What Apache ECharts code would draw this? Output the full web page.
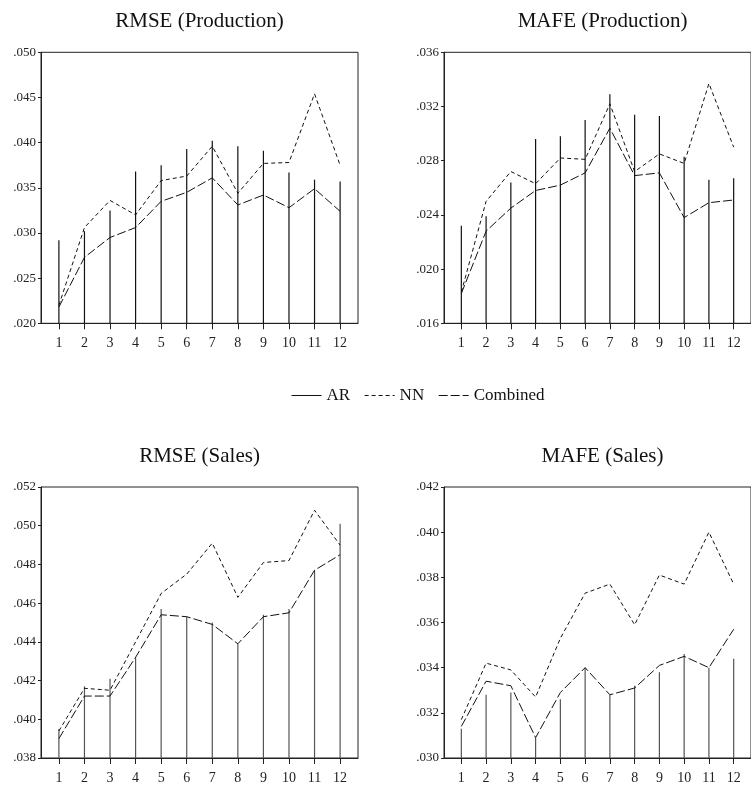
<!DOCTYPE html>
<html>
<head>
<meta charset="utf-8">
<script src="https://cdn.jsdelivr.net/npm/echarts@6/dist/echarts.min.js"></script>
<style>
html,body{margin:0;padding:0;background:#fff;}
#chart{width:751px;height:785px;}
</style>
</head>
<body>
<div id="chart"></div>
<script>
// Forecast horizons (x categories)
const horizons = [1,2,3,4,5,6,7,8,9,10,11,12];

// RMSE (Production)
const rmseProdAR   = [0.0292,0.0302,0.0325,0.0368,0.0375,0.0393,0.0402,0.0396,0.0391,0.0367,0.0359,0.0357];
const rmseProdNN   = [0.0220,0.0306,0.0336,0.0320,0.0358,0.0363,0.0396,0.0344,0.0377,0.0378,0.0454,0.0375];
const rmseProdComb = [0.0218,0.0273,0.0295,0.0306,0.0335,0.0345,0.0361,0.0331,0.0342,0.0328,0.0349,0.0324];

// MAFE (Production)
const mafeProdAR   = [0.0232,0.0239,0.0264,0.0296,0.0298,0.0310,0.0329,0.0314,0.0313,0.0283,0.0266,0.0267];
const mafeProdNN   = [0.0183,0.0250,0.0272,0.0263,0.0282,0.0281,0.0322,0.0272,0.0285,0.0278,0.0337,0.0290];
const mafeProdComb = [0.0182,0.0228,0.0245,0.0258,0.0262,0.0271,0.0304,0.0269,0.0271,0.0238,0.0249,0.0251];

// RMSE (Sales)
const rmseSalesAR   = [0.0395,0.0417,0.0421,0.0432,0.0457,0.0453,0.0450,0.0439,0.0454,0.0457,0.0477,0.0501];
const rmseSalesNN   = [0.0394,0.0416,0.0415,0.0440,0.0465,0.0475,0.0491,0.0463,0.0481,0.0482,0.0508,0.0490];
const rmseSalesComb = [0.0390,0.0412,0.0412,0.0432,0.0454,0.0453,0.0449,0.0439,0.0453,0.0455,0.0477,0.0485];

// MAFE (Sales)
const mafeSalesAR   = [0.0313,0.0328,0.0329,0.0309,0.0326,0.0340,0.0328,0.0332,0.0338,0.0346,0.0340,0.0344];
const mafeSalesNN   = [0.0317,0.0342,0.0339,0.0327,0.0353,0.0373,0.0377,0.0359,0.0381,0.0377,0.0400,0.0377];
const mafeSalesComb = [0.0314,0.0334,0.0332,0.0309,0.0329,0.0340,0.0328,0.0331,0.0341,0.0345,0.0340,0.0357];

// Titles and y-axis ranges
const panelTitles = ['RMSE (Production)','MAFE (Production)','RMSE (Sales)','MAFE (Sales)'];
const yMins = [0.020, 0.016, 0.038, 0.030];
const yMaxs = [0.050, 0.036, 0.052, 0.042];
const yIntervals = [0.005, 0.004, 0.002, 0.002];

const panels = [
  {ar: rmseProdAR, nn: rmseProdNN, comb: rmseProdComb},
  {ar: mafeProdAR, nn: mafeProdNN, comb: mafeProdComb},
  {ar: rmseSalesAR, nn: rmseSalesNN, comb: rmseSalesComb},
  {ar: mafeSalesAR, nn: mafeSalesNN, comb: mafeSalesComb}
];

const layout = [
  {left: 41, top: 52.3},
  {left: 444, top: 52.3},
  {left: 41, top: 487},
  {left: 444, top: 487}
];
const gridW = 317, gridH = 271;
const serif = '"Liberation Serif", "DejaVu Serif", serif';
const spikeColors = ['#111','#111','#555','#555'];

const grids = [], xAxes = [], yAxes = [], series = [], titles = [];
panels.forEach((p, i) => {
  grids.push({left: layout[i].left, top: layout[i].top, width: gridW, height: gridH,
    show: true, borderColor: '#222', borderWidth: 1, backgroundColor: 'transparent'});
  titles.push({text: panelTitles[i], left: layout[i].left + gridW/2, top: i < 2 ? 11 : 446,
    textAlign: 'center', padding: 0,
    textStyle: {fontFamily: serif, fontSize: 21, fontWeight: 'normal', color: '#111'}});
  xAxes.push({type: 'value', gridIndex: i, min: 0.3, max: 12.7,
    axisLine: {show: true, onZero: false, lineStyle: {color: '#222', width: 1}},
    axisTick: {show: true, inside: false, length: 6, customValues: horizons, lineStyle: {color: '#222'}},
    axisLabel: {customValues: horizons, margin: 13, fontFamily: serif, fontSize: 14, color: '#222'},
    splitLine: {show: false}});
  yAxes.push({type: 'value', gridIndex: i, min: yMins[i], max: yMaxs[i], interval: yIntervals[i],
    axisLine: {show: true, lineStyle: {color: '#222', width: 1}},
    axisTick: {show: true, inside: false, length: 3, lineStyle: {color: '#222'}},
    axisLabel: {margin: 5, fontFamily: serif, fontSize: 13, color: '#222', padding: [0,0,4,0],
      formatter: v => v.toFixed(3).replace(/^0/, '')},
    splitLine: {show: false}});
  const ymin = yMins[i];
  const col = spikeColors[i];
  series.push({
    name: 'AR spikes', type: 'custom', xAxisIndex: i, yAxisIndex: i,
    data: horizons.map((h, k) => [h, p.ar[k]]),
    renderItem: (params, api) => {
      const x = api.value(0), y = api.value(1);
      const top = api.coord([x, y]);
      const base = api.coord([x, ymin]);
      return {type: 'line', shape: {x1: base[0], y1: base[1], x2: top[0], y2: top[1]},
        style: {stroke: col, lineWidth: 1.2}};
    },
    silent: true, z: 1
  });
  series.push({name: 'NN', type: 'line', xAxisIndex: i, yAxisIndex: i,
    data: horizons.map((h, k) => [h, p.nn[k]]), symbol: 'none', silent: true,
    lineStyle: {color: '#111', width: 1, type: [4, 3]}, itemStyle: {color: '#111'}, z: 2});
  series.push({name: 'Combined', type: 'line', xAxisIndex: i, yAxisIndex: i,
    data: horizons.map((h, k) => [h, p.comb[k]]), symbol: 'none', silent: true,
    lineStyle: {color: '#111', width: 1, type: [9, 3]}, itemStyle: {color: '#111'}, z: 2});
});
// Legend-only entry for AR (solid line)
series.push({name: 'AR', type: 'line', xAxisIndex: 0, yAxisIndex: 0, data: [], symbol: 'none',
  lineStyle: {color: '#111', width: 1, type: 'solid'}, itemStyle: {color: '#111'}});

const chart = echarts.init(document.getElementById('chart'), null, {renderer: 'canvas'});
chart.setOption({
  animation: false,
  backgroundColor: '#fff',
  title: titles,
  legend: {data: ['AR','NN','Combined'], left: 286, top: 382, itemWidth: 30, itemHeight: 10,
    itemGap: 14, itemStyle: {opacity: 0}, lineStyle: {width: 1},
    textStyle: {fontFamily: serif, fontSize: 17, color: '#111'}, selectedMode: false},
  grid: grids, xAxis: xAxes, yAxis: yAxes, series: series
});
</script>
</body>
</html>
